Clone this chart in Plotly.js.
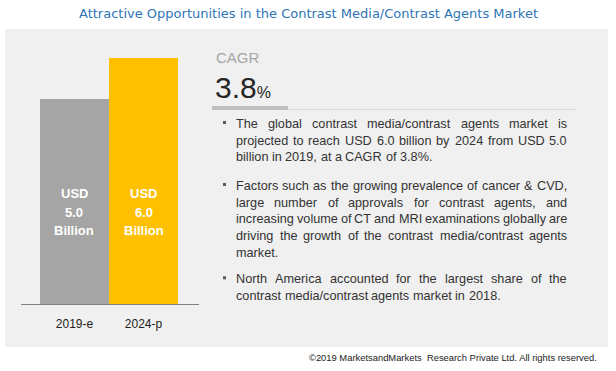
<!DOCTYPE html>
<html>
<head>
<meta charset="utf-8">
<script src="https://cdn.plot.ly/plotly-3.0.1.min.js"></script>
<style>html,body{margin:0;padding:0;background:#fff;}#chart{width:616px;height:371px;}</style>
</head>
<body>
<div id="chart"></div>
<script>
// ---------- data ----------
const categories = ['2019-e', '2024-p'];
const values = [5.0, 6.0];
const barColors = ['#a5a5a5', '#ffc000'];
const unitPrefix = 'USD';
const unitSuffix = 'Billion';
const cagrLabel = 'CAGR';
const cagrValue = 3.8;
const titleText = 'Attractive Opportunities in the Contrast Media/Contrast Agents Market';
const footerText = '©2019 MarketsandMarkets  Research Private Ltd. All rights reserved.';
const para1 = [
  'The global contrast media/contrast agents market is',
  'projected to reach USD 6.0 billion by 2024 from USD 5.0',
  'billion in 2019, at a CAGR of 3.8%.'
];
const para2 = [
  'Factors such as the growing  prevalence of cancer & CVD,',
  'large number of approvals for contrast agents, and',
  'increasing volume of CT and MRI examinations globally are',
  'driving the growth of the contrast media/contrast agents',
  'market.'
];
const para3 = [
  'North America accounted for the largest share of the',
  'contrast media/contrast agents market in 2018.'
];

// ---------- layout helpers ----------
const W = 616, H = 371;
const M = {l: 21, r: 417, t: 30, b: 67};
const PW = W - M.l - M.r, PH = H - M.t - M.b;
const xp = px => (px - M.l) / PW;
const yp = py => (H - M.b - py) / PH;
const pxPerUnit = 41;

const annotations = [];
const shapes = [];

// panel background
shapes.push({type: 'rect', xref: 'paper', yref: 'paper', x0: xp(5), x1: xp(608), y0: yp(347), y1: yp(29),
  fillcolor: '#f0f0f0', line: {width: 0}, layer: 'below'});

// title
annotations.push({xref: 'paper', yref: 'paper', x: xp(308), y: yp(13.5), xanchor: 'center', yanchor: 'middle',
  text: titleText, showarrow: false, borderpad: 0, borderwidth: 0,
  font: {family: 'DejaVu Sans', size: 13, color: '#2e75b6'}});

// footer
annotations.push({xref: 'paper', yref: 'paper', x: xp(597), y: yp(357), xanchor: 'right', yanchor: 'middle',
  text: footerText, showarrow: false, borderpad: 0, borderwidth: 0,
  font: {family: 'Liberation Sans', size: 9.4, color: '#222'}});

// bar labels (one annotation per line for exact line spacing)
const labelLineY = [194, 212.7, 231];
categories.forEach((c, i) => {
  const parts = [unitPrefix, values[i].toFixed(1), unitSuffix];
  parts.forEach((p, k) => {
    annotations.push({xref: 'x', yref: 'paper', x: c, y: yp(labelLineY[k]), xanchor: 'center', yanchor: 'middle',
      text: '<b>' + p + '</b>', showarrow: false, borderpad: 0, borderwidth: 0,
      font: {family: 'Liberation Sans', size: 13, color: '#ffffff'}});
  });
});

// CAGR block
annotations.push({xref: 'paper', yref: 'paper', x: xp(216), y: yp(57), xanchor: 'left', yanchor: 'middle',
  text: cagrLabel, showarrow: false, borderpad: 0, borderwidth: 0,
  font: {family: 'Liberation Sans', size: 15, color: '#a6a6a6'}});
annotations.push({xref: 'paper', yref: 'paper', x: xp(215), y: yp(87), xanchor: 'left', yanchor: 'middle',
  text: cagrValue.toFixed(1) + '<span style="font-size:16px">%</span>', showarrow: false, borderpad: 0, borderwidth: 0,
  font: {family: 'Liberation Sans', size: 30, color: '#262626'}});
shapes.push({type: 'line', xref: 'paper', yref: 'paper', x0: xp(212), x1: xp(577), y0: yp(109.5), y1: yp(109.5),
  line: {color: '#d9d9d9', width: 1}});
shapes.push({type: 'rect', xref: 'paper', yref: 'paper', x0: xp(212), x1: xp(288), y0: yp(110), y1: yp(106),
  fillcolor: '#bfbfbf', line: {width: 0}});

// justified bullet paragraphs
const FS = 12.7, FONT = 'Liberation Sans';
const TX0 = 236, TX1 = 567, LINE = 16.7;
const ctx = document.createElement('canvas').getContext('2d');
ctx.font = FS + 'px "' + FONT + '"';
const spaceW = ctx.measureText(' ').width;
function addPara(lines, y0) {
  shapes.push({type: 'rect', xref: 'paper', yref: 'paper', x0: xp(223), x1: xp(226), y0: yp(y0), y1: yp(y0 - 3),
    fillcolor: '#595959', line: {width: 0}});
  lines.forEach((line, i) => {
    const words = line.split(/\s+/).filter(Boolean);
    const ws = words.map(w => ctx.measureText(w).width);
    const tot = ws.reduce((a, b) => a + b, 0);
    const last = i === lines.length - 1;
    let gap = last || words.length < 2 ? spaceW : (TX1 - TX0 - tot) / (words.length - 1);
    if (gap < spaceW * 0.5) gap = spaceW * 0.5;
    let x = TX0;
    const y = y0 + i * LINE;
    words.forEach((w, k) => {
      annotations.push({xref: 'paper', yref: 'paper', x: xp(x), y: yp(y), xanchor: 'left', yanchor: 'middle',
        text: w.replace(/&/g, '&amp;'), showarrow: false, borderpad: 0, borderwidth: 0,
        font: {family: FONT, size: FS, color: '#333333'}});
      x += ws[k] + gap;
    });
  });
}
addPara(para1, 124);
addPara(para2, 186);
addPara(para3, 279.3);

const trace = {
  type: 'bar', x: categories, y: values,
  marker: {color: barColors, line: {width: 0}},
  hoverinfo: 'skip', showlegend: false
};

const layout = {
  width: W, height: H, margin: M,
  paper_bgcolor: '#ffffff', plot_bgcolor: 'rgba(0,0,0,0)',
  bargap: 0,
  xaxis: {type: 'category', range: [-0.775, 1.804], showline: true, linecolor: '#808080', linewidth: 1,
    showgrid: false, zeroline: false, ticks: 'outside', ticklen: 9, tickcolor: 'rgba(0,0,0,0)',
    tickfont: {family: 'Liberation Sans', size: 12, color: '#222'}, fixedrange: true},
  yaxis: {range: [0, PH / pxPerUnit], visible: false, showgrid: false, zeroline: false, fixedrange: true},
  annotations: annotations,
  shapes: shapes,
  font: {family: 'Liberation Sans'}
};

Plotly.newPlot('chart', [trace], layout, {staticPlot: true, displayModeBar: false});
</script>
</body>
</html>
